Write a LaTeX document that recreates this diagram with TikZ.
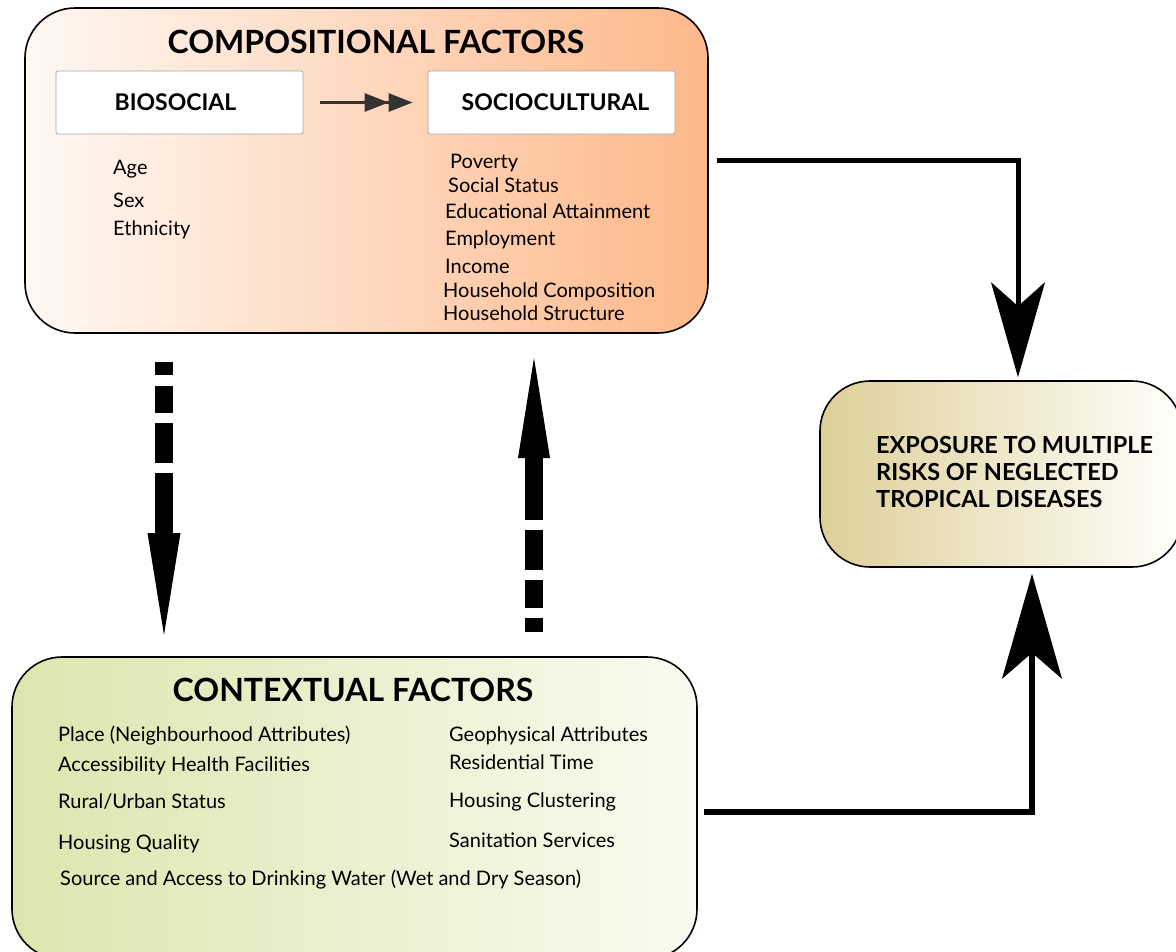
\documentclass[tikz,border=0pt]{standalone}
\usepackage{fontspec}
\setmainfont{Lato}
\usetikzlibrary{arrows.meta}
\definecolor{compL}{RGB}{255,248,244}
\definecolor{compR}{RGB}{253,184,138}
\definecolor{ctxL}{RGB}{219,230,174}
\definecolor{ctxR}{RGB}{250,250,240}
\definecolor{expL}{RGB}{222,207,152}
\definecolor{expR}{RGB}{255,255,252}
\definecolor{dgray}{RGB}{51,51,51}
\tikzset{
  bigbox/.style={draw=black, line width=1.6pt, rounded corners=50pt, inner sep=0pt},
  subbox/.style={draw=gray!70, fill=white, line width=0.8pt, rounded corners=2pt, minimum width=247pt, minimum height=63pt, inner sep=0pt, font=\bfseries\fontsize{23}{26}\selectfont},
  title/.style={font=\bfseries\fontsize{32}{36}\selectfont, inner sep=0pt, anchor=base},
  item/.style={font=\fontsize{20}{23}\selectfont, inner sep=0pt, anchor=base west},
  expitem/.style={font=\bfseries\fontsize{23.5}{26}\selectfont, inner sep=0pt, anchor=base west},
  flow/.style={line width=5pt, line join=miter},
  dashflow/.style={line width=18pt, line cap=butt}
}
\begin{document}
\begin{tikzpicture}[x=1pt,y=-1pt]
\useasboundingbox (0,0) rectangle (1176,951);

% boxes
\node[bigbox, left color=compL, right color=compR, minimum width=683pt, minimum height=325pt] (comp) at (366.5,170.5) {};
\node[bigbox, left color=ctxL, right color=ctxR, minimum width=685pt, minimum height=302pt] (ctx) at (354.5,808) {};
\node[bigbox, left color=expL, right color=expR, minimum width=362pt, minimum height=186pt] (exp) at (1001,474) {};

% compositional
\node[title] (comptitle) at (376,53) {COMPOSITIONAL FACTORS};
\node[subbox] (bio) at (179.5,102.5) {\hspace*{-8pt}BIOSOCIAL};
\node[subbox] (soc) at (551.5,102.5) {\hspace*{8pt}SOCIOCULTURAL};
\draw[line width=3pt, dgray, -{Triangle[length=24pt,width=18pt]Triangle[length=24pt,width=18pt]}] ([xshift=17pt]bio.east) -- ([xshift=-15pt]soc.west);

\node[item] (age) at (113,174) {Age};
\node[item] (sex) at (113,207) {Sex};
\node[item] (eth) at (113,235) {Ethnicity};

\node[item] (pov) at (450,168) {Poverty};
\node[item] (sst) at (448,192) {Social Status};
\node[item] (edu) at (445,218) {Educational Attainment};
\node[item] (emp) at (445,245) {Employment};
\node[item] (inc) at (445,273) {Income};
\node[item] (hhc) at (443,297) {Household Composition};
\node[item] (hhs) at (443,320) {Household Structure};

% contextual
\node[title] (ctxtitle) at (353,701) {CONTEXTUAL FACTORS};
\node[item] (pla) at (58,741) {Place (Neighbourhood Attributes)};
\node[item] (acc) at (58,771) {Accessibility Health Facilities};
\node[item] (rur) at (58,808) {Rural/Urban Status};
\node[item] (hq) at (58,849) {Housing Quality};
\node[item] (src) at (60,885) {Source and Access to Drinking Water (Wet and Dry Season)};
\node[item] (geo) at (449,741) {Geophysical Attributes};
\node[item] (res) at (449,769) {Residential Time};
\node[item] (hcl) at (449,807) {Housing Clustering};
\node[item] (san) at (449,847) {Sanitation Services};

% exposure
\node[expitem] (e1) at (876,453) {EXPOSURE TO MULTIPLE};
\node[expitem] (e2) at (876,480) {RISKS OF NEGLECTED};
\node[expitem] (e3) at (876,507) {TROPICAL DISEASES};

% connectors
\coordinate (c1) at (717,160);
\draw[flow, -{Stealth[length=95pt,width=54pt,inset=24pt,line width=1pt]}] (c1) -| ([xshift=17pt,yshift=3pt]exp.north);
\coordinate (c2) at (704,812);
\draw[flow, line width=6pt, -{Stealth[length=105pt,width=60pt,inset=26pt,line width=1pt]}] (c2) -| ([xshift=31pt,yshift=-6pt]exp.south);

\coordinate (d1s) at (164,362);
\coordinate (d1e) at (164,635);
\draw[dashflow, dash pattern=on 13pt off 11pt on 27pt off 10pt on 40pt off 10pt on 300pt, -{Triangle[length=102pt,width=33pt,line width=0pt]}] (d1s) -- (d1e);
\coordinate (d2s) at (534,632);
\coordinate (d2e) at (534,358);
\draw[dashflow, dash pattern=on 14pt off 10pt on 28pt off 10pt on 40pt off 10pt on 300pt, -{Triangle[length=100pt,width=32pt,line width=0pt]}] (d2s) -- (d2e);
\end{tikzpicture}
\end{document}
